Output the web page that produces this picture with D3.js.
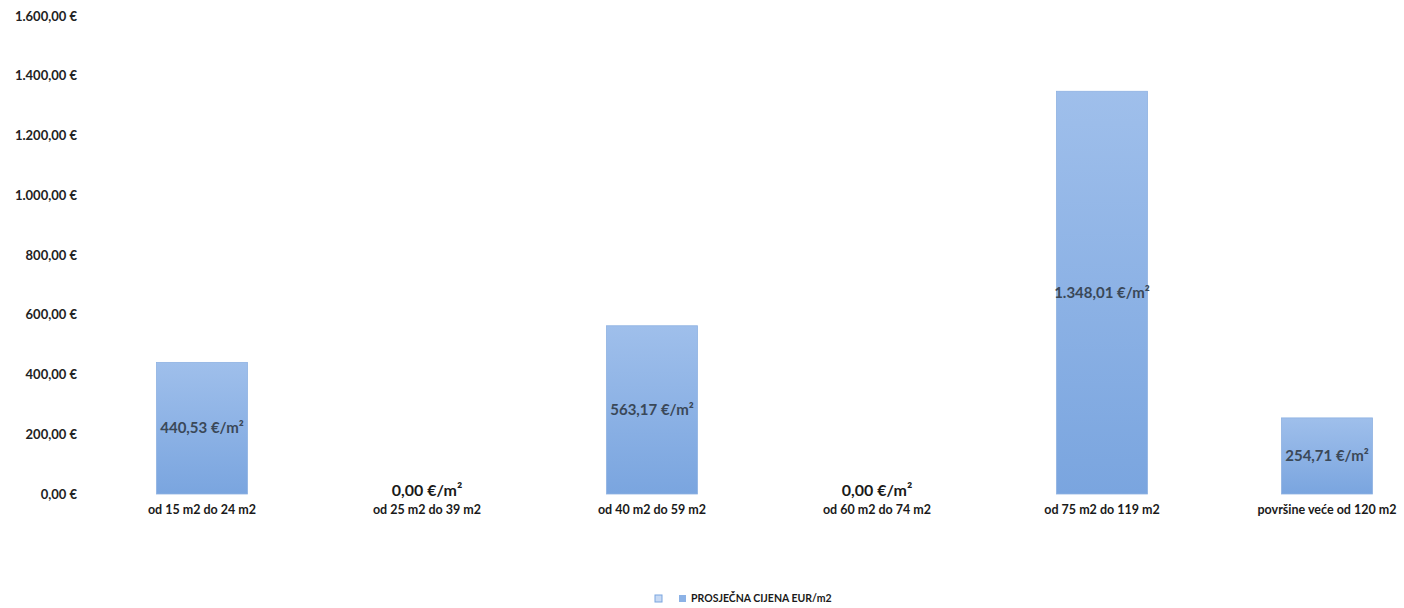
<!DOCTYPE html>
<html><head><meta charset="utf-8">
<script src="https://cdn.jsdelivr.net/npm/d3@7"></script>
<style>body{margin:0;background:#fff;} svg{display:block;}</style>
</head><body>
<svg id="chart" width="1404" height="608"></svg>
<script>
const categories = ["od 15 m2 do 24 m2","od 25 m2 do 39 m2","od 40 m2 do 59 m2","od 60 m2 do 74 m2","od 75 m2 do 119 m2","površine veće od 120 m2"];
const values = [440.53, 0, 563.17, 0, 1348.01, 254.71];
const yTicks = [0, 200, 400, 600, 800, 1000, 1200, 1400, 1600];
const seriesName = "PROSJEČNA CIJENA EUR/m2";

const svg = d3.select("#chart");
const font = "Lato, 'Open Sans', sans-serif";
const loc = d3.formatLocale({decimal: ",", thousands: ".", grouping: [3], currency: ["", " €"]});
const fmt = loc.format(",.2f");

const x = d3.scaleBand().domain(categories).range([89.5, 1439.5]).paddingInner(0.595).paddingOuter(0.2975);
const y = d3.scaleLinear().domain([0, 1600]).range([494, 16]);

const defs = svg.append("defs");
const g = defs.append("linearGradient").attr("id","barg").attr("x1",0).attr("x2",0).attr("y1",0).attr("y2",1);
g.append("stop").attr("offset","0%").attr("stop-color","#9fbfeb");
g.append("stop").attr("offset","100%").attr("stop-color","#7aa5df");

const yAxis = d3.axisLeft(y).tickValues(yTicks).tickSize(0).tickPadding(0).tickFormat(d => fmt(d) + " €");
const ya = svg.append("g").attr("transform","translate(77,0)").call(yAxis);
ya.select(".domain").remove();
ya.selectAll("text").attr("font-family", font).attr("font-size", 13).attr("font-weight", 700).attr("fill", "#222");

svg.append("g").selectAll("rect").data(values).join("rect")
  .attr("x", (d,i) => x(categories[i]))
  .attr("width", x.bandwidth())
  .attr("y", d => y(d))
  .attr("height", d => y(0) - y(d))
  .attr("fill", "url(#barg)")
  .attr("stroke", "#8fb2e2").attr("stroke-width", 0.8);

// value labels
svg.append("g").selectAll("text").data(values).join("text")
  .attr("x", (d,i) => x(categories[i]) + x.bandwidth()/2)
  .attr("y", d => d > 0 ? (y(d) + y(0))/2 + 5 : y(0) + 2)
  .attr("text-anchor", "middle")
  .attr("font-family", font)
  .attr("font-weight", 700)
  .attr("font-size", d => d > 0 ? 15 : 16)
  .attr("fill", d => d > 0 ? "#3a4858" : "#1a1a1a")
  .text(d => fmt(d) + " €/m²");

const xAxis = d3.axisBottom(x).tickSize(0).tickPadding(0);
const xa = svg.append("g").attr("transform","translate(0,503)").call(xAxis);
xa.select(".domain").remove();
xa.selectAll("text").attr("font-family", font).attr("font-size", 12.5).attr("font-weight", 700).attr("fill", "#1a1a1a").attr("dy", "0.9em");

// legend
const lg = svg.append("g").attr("transform","translate(655,602)");
lg.append("rect").attr("x",0).attr("y",-7).attr("width",7).attr("height",7).attr("fill","#c8daf4").attr("stroke","#7aa5df").attr("stroke-width",1);
lg.append("rect").attr("x",24).attr("y",-7).attr("width",7).attr("height",7).attr("fill","#8cb2e6");
lg.append("text").attr("x",36).attr("y",0).attr("font-family",font).attr("font-size",10.5).attr("font-weight",700).attr("fill","#1a1a1a").text(seriesName);
</script>
</body></html>
